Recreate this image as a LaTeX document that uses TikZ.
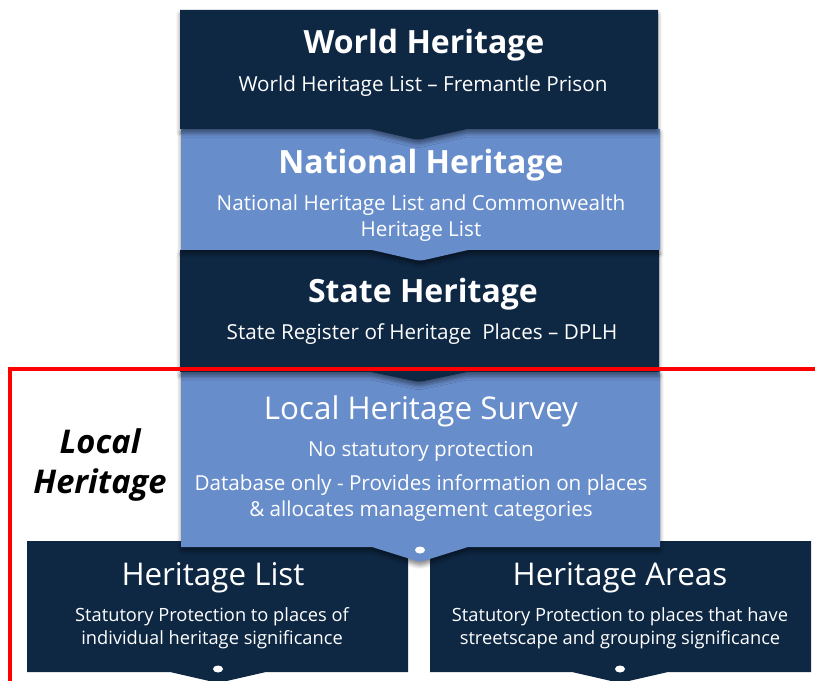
\documentclass[tikz,border=0pt]{standalone}
\usepackage{fontspec}
\setmainfont{Open Sans}
\usetikzlibrary{shadows.blur}
\definecolor{navy}{HTML}{0E2743}
\definecolor{steel}{HTML}{688DCB}
\definecolor{frame}{HTML}{FF0000}

\tikzset{
  tiershadow/.style={blur shadow={shadow xshift=0pt, shadow yshift=-3pt, shadow blur radius=3pt, shadow opacity=45}},
  tiertitle/.style={text=white, inner sep=0pt, font=\fontsize{24}{28}\selectfont\bfseries},
  tierhead/.style={text=white, inner sep=0pt, font=\fontsize{23.5}{28}\selectfont},
  tiertext/.style={text=white, inner sep=0pt, align=center, font=\fontsize{15.5}{19.5}\selectfont},
  basetext/.style={text=white, inner sep=0pt, align=center, font=\fontsize{13.7}{17.2}\selectfont},
  sidetext/.style={text=black, inner sep=0pt, align=center, font=\fontsize{24.5}{30}\selectfont\bfseries\itshape},
  dot/.style={fill=white}
}

\begin{document}
\begin{tikzpicture}[x=0.75pt,y=-0.75pt]
\useasboundingbox (0,0) rectangle (815,681);

% bottom tier
\fill[navy] (27,541) -- (408,541) -- (408,672) -- (266,672) -- (218,683) -- (170,672) -- (27,672) -- cycle;
\fill[navy] (430,541) -- (811,541) -- (811,672) -- (668,672) -- (620,683) -- (572,672) -- (430,672) -- cycle;
\fill[dot] (218,669) ellipse (5 and 3.5);
\fill[dot] (620,669) ellipse (5 and 3.5);

% local heritage survey
\fill[steel, tiershadow] (181,371) -- (660,371) -- (660,547) -- (468,547) [rounded corners=3] -- (420,562) [sharp corners] -- (372,547) -- (181,547) -- cycle;
\fill[dot] (420,550) ellipse (5 and 3.5);

% state heritage
\fill[navy, tiershadow] (180,250) -- (659,250) -- (659,372) -- (467,372) [rounded corners=3] -- (419,382) [sharp corners] -- (371,372) -- (180,372) -- cycle;

% national heritage
\fill[steel, tiershadow] (181,129) -- (660,129) -- (660,250) -- (468,250) [rounded corners=3] -- (420,261) [sharp corners] -- (372,250) -- (181,250) -- cycle;

% world heritage
\fill[navy, tiershadow] (180,10) -- (658,10) -- (658,129) -- (467,129) [rounded corners=3] -- (418,140) [sharp corners] -- (370,129) -- (180,129) -- cycle;

% texts
\node[tiertitle] (worldtitle) at (424,45) {World Heritage};
\node[tiertext] (worldtext) at (423,86) {World Heritage List -- Fremantle Prison};
\node[tiertitle] (nattitle) at (421,165) {National Heritage};
\node[tiertext] (nattext) at (421,218) {National Heritage List and Commonwealth\\Heritage List};
\node[tiertitle] (statetitle) at (423,294) {State Heritage};
\node[tiertext] (statetext) at (422,334) {State Register of Heritage\ \ Places -- DPLH};
\node[tierhead] (surveytitle) at (421,411) {Local Heritage Survey};
\node[tiertext] (surveytext) at (421,451) {No statutory protection};
\node[tiertext] (surveynote) at (421,498) {Database only - Provides information on places\\\& allocates management categories};
\node[tierhead] (listtitle) at (213,578) {Heritage List};
\node[basetext] (listtext) at (212,628) {Statutory Protection to places of\\individual heritage significance};
\node[tierhead] (areatitle) at (620,578) {Heritage Areas};
\node[basetext] (areatext) at (620,628) {Statutory Protection to places that have\\streetscape and grouping significance};
\node[sidetext] (localside) at (100,465) {Local\\Heritage};

% local heritage frame
\draw[frame, line width=3pt] (10,681) -- (10,369) -- (815,369);
\end{tikzpicture}
\end{document}
